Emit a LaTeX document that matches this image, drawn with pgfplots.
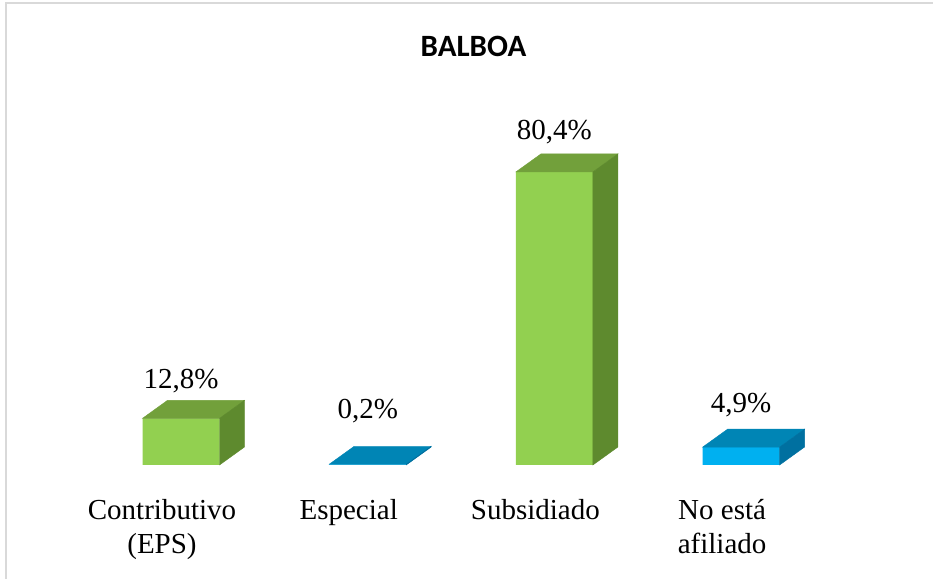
\documentclass[border=0pt]{standalone}
\usepackage{pgfplots}
\pgfplotsset{compat=1.18}
\usepackage{pgfplotstable}
\usepackage{fontspec}
\setmainfont{Liberation Serif}
\newfontfamily\titlefont{Carlito}
\definecolor{gfront}{HTML}{92D050}
\definecolor{gtop}{HTML}{72A03B}
\definecolor{gside}{HTML}{5E8A2E}
\definecolor{bfront}{HTML}{00B0F0}
\definecolor{btop}{HTML}{0085B5}
\definecolor{bside}{HTML}{0070A0}
\definecolor{frame}{HTML}{D9D9D9}
\pgfdeclareplotmark{blank}{}

\pgfplotstableread{
x y off
0 12.8 30
2 80.4 32
}\greentab
\pgfplotstableread{
x y off
1 0.2 46
3 4.9 35
}\bluetab

\pgfplotsset{
  front/.style={ybar, bar width=77bp, bar shift=0pt, draw=none, fill=#1,
    point meta=y,
    nodes near coords={\pgfmathprintnumber[use comma, fixed, fixed zerofill, precision=1, assume math mode=true]{\pgfplotspointmeta}\%},
    visualization depends on={\thisrow{off} \as \off},
    nodes near coords style={anchor=base, yshift=\off bp, inner sep=0pt,
      font=\fontsize{29bp}{34bp}\selectfont, text=black}},
  faces/.style 2 args={scatter, only marks, mark=blank, point meta=y,
    visualization depends on={\thisrow{y} \as \yv},
    scatter/@pre marker code/.code={%
      \pgfmathsetlengthmacro\h{\yv*3.645bp}%
      \fill[#1] (-38.5bp,0pt) -- (38.5bp,0pt) -- (63.5bp,18bp) -- (-13.5bp,18bp) -- cycle;
      \fill[#2] (38.5bp,0pt) -- (63.5bp,18bp) -- ({63.5bp},{18bp-\h}) -- ({38.5bp},{-\h}) -- cycle;
    },
    scatter/@post marker code/.code={}},
}

\begin{document}
\begin{tikzpicture}
\path[use as bounding box] (0,0) rectangle (933bp,579bp);
\fill[white] (0,0) rectangle (933bp,579bp);
\draw[frame, line width=2bp] (5.5bp,0) -- (5.5bp,575.5bp) -- (933bp,575.5bp);
\node[anchor=base, font=\titlefont\bfseries\fontsize{31bp}{31bp}\selectfont] at (473.5bp,522bp) {BALBOA};
\begin{axis}[
  at={(87.65bp,114bp)}, anchor=south west,
  x=186.7bp, y=3.645bp,
  xmin=-0.5, xmax=3.5, ymin=0, ymax=100,
  axis line style={draw=none}, tick style={draw=none},
  ytick=\empty, xtick={0,1,2,3},
  xticklabels={Contributivo\\(EPS), Especial, Subsidiado, No está\\afiliado},
  xticklabel style={font=\fontsize{29bp}{34bp}\selectfont, align=center,
    xshift=-19bp, inner sep=0pt, yshift=-34bp},
  clip=false,
]
\addplot[front=gfront] table[x=x, y=y] {\greentab};
\addplot[front=bfront] table[x=x, y=y] {\bluetab};
\addplot[faces={gtop}{gside}] table[x=x, y=y] {\greentab};
\addplot[faces={btop}{bside}] table[x=x, y=y] {\bluetab};
\end{axis}
\end{tikzpicture}
\end{document}
